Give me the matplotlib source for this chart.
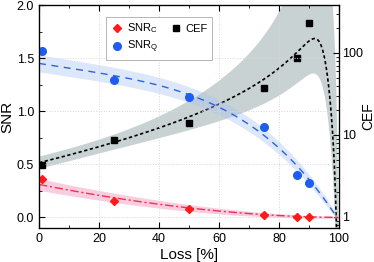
import numpy as np
import matplotlib
matplotlib.use('Agg')
from matplotlib import pyplot as plt
from matplotlib.ticker import MultipleLocator, LogLocator, NullFormatter

plt.rcParams['font.family'] = ['Liberation Sans', 'DejaVu Sans']

# measured points
loss = [1, 25, 50, 75, 86, 90]
snr_q = [1.57, 1.29, 1.13, 0.85, 0.40, 0.32]
snr_c = [0.36, 0.15, 0.08, 0.023, 0.005, 0.0014]
cef = [4.3, 8.7, 14.1, 37.8, 86, 229]

# fit parameters
q0, q_lin, q_pow, q_end = 1.45, 0.3, 3.8, 99.3
c0, c_pow = 0.31, 1.8
cef0, cef_p, cef_q, cef_cut, cef_n = 4.57, 1.21, 0.392, 0.0671, 4.1


def fit_q(L):
  u = np.clip(L / q_end, 0, 1)
  return q0 * (1 - q_lin * u - (1 - q_lin) * u**q_pow)

def fit_c(L):
  return c0 * (1 - L / 100.0)**c_pow

def fit_cef(L):
  eta = 1 - L / 100.0
  base = cef0 * eta**(-cef_p) * 10**(cef_q * (1 - eta))
  return base / (1 + (cef_cut / eta)**cef_n)


fig = plt.figure(figsize=(3.74, 2.62), dpi=100)
ax1 = fig.add_axes([0.1043, 0.1298, 0.8021, 0.8511])
ax2 = ax1.twinx()
ax1.set_zorder(ax2.get_zorder() + 1)
ax1.patch.set_visible(False)

# CEF on the log axis
xl = np.concatenate([np.linspace(0, 95, 400), np.linspace(95, 99.995, 3000)])
logc = np.log10(fit_cef(xl))
rc = 0.086 + 0.85 * (xl / 88.0)**2.5
rq = 0.086 + 0.2 * (xl / 100.0)**3
du = np.where(rc < 1, -np.log10(np.clip(1 - rc, 1e-6, None)) + np.log10(1 + rq), 1.6)
du = np.maximum(du, np.where(rc < 1, 0, 1.6))
dl = np.log10(1 + rc) - np.log10(1 - rq)
ax2.fill_between(xl, 10**(logc - dl), 10**np.minimum(logc + du, 5), color='#c8d2d2', lw=0)
ax2.plot(xl, 10**logc, color='black', ls=(0, (2, 1.5)), lw=1.2)
ax2.plot(loss, cef, 's', color='black', ms=4.5, ls='none')
ax2.set_yscale('log')
ax2.set_ylim(0.73, 385)
ax2.yaxis.set_minor_locator(LogLocator(base=10, subs=np.arange(2, 10), numticks=10))
ax2.yaxis.set_minor_formatter(NullFormatter())
ax2.set_yticks([1, 10, 100])
ax2.set_yticklabels(['1', '10', '100'])
ax2.tick_params(axis='y', which='both', direction='in', labelsize=9, pad=2)
ax2.tick_params(axis='y', which='major', length=4)
ax2.tick_params(axis='y', which='minor', length=2)
ax2.set_ylabel('CEF', fontsize=10, labelpad=-1)

# SNR fits and bands
xq = np.concatenate([np.linspace(0, 95, 300), np.linspace(95, q_end, 200)])
yq = fit_q(xq)
wq = 0.08 * np.clip(yq / q0, 0, None)**0.35
ax1.fill_between(xq, yq - wq, yq + wq, color='#a9c4f5', alpha=0.4, lw=0)
ax1.plot(xq, yq, color='#2d62e0', ls=(0, (5, 4)), lw=1.0)

xc = np.linspace(0, 100, 400)
yc = fit_c(xc)
wc = 0.047 * (1 - xc / 100.0) + 0.008
ax1.fill_between(xc, yc - wc, yc + wc, color='#f48fb8', alpha=0.45, lw=0)
ax1.plot(xc, yc, color='#f03050', ls=(0, (6, 2, 1.5, 2)), lw=1.0)

ax1.plot(loss, snr_c, 'D', color='#ff1a1a', ms=4, label='SNR$_\\mathregular{C}$')
ax1.plot(loss, snr_q, 'o', color='#1f5cf0', ms=5.5, label='SNR$_\\mathregular{Q}$')
ax1.plot([], [], 's', color='black', ms=4.5, label='CEF')

ax1.set_xlim(0, 100)
ax1.set_ylim(-0.1, 2.0)
ax1.xaxis.set_major_locator(MultipleLocator(20))
ax1.xaxis.set_minor_locator(MultipleLocator(10))
ax1.yaxis.set_major_locator(MultipleLocator(0.5))
ax1.yaxis.set_minor_locator(MultipleLocator(0.25))
ax1.tick_params(which='both', direction='in', top=True, right=False, labelsize=9)
ax1.tick_params(which='major', length=4)
ax1.tick_params(which='minor', length=2)
ax1.grid(True, which='major', color='#d8d8d8', ls=':', lw=0.7)
ax1.set_xlabel('Loss [%]', fontsize=11, labelpad=2)
ax1.set_ylabel('SNR', fontsize=11, labelpad=2)

leg = ax1.legend(loc='upper center', bbox_to_anchor=(0.4, 0.97), ncol=2, fontsize=8,
                 frameon=True, fancybox=False, framealpha=1, edgecolor='#aaaaaa',
                 handletextpad=0.3, columnspacing=1.0, borderpad=0.4, labelspacing=0.3,
                 handlelength=1.2)
leg.get_frame().set_linewidth(0.6)

for sp in ax1.spines.values():
  sp.set_linewidth(0.9)

plt.savefig('out.png', dpi=100)
